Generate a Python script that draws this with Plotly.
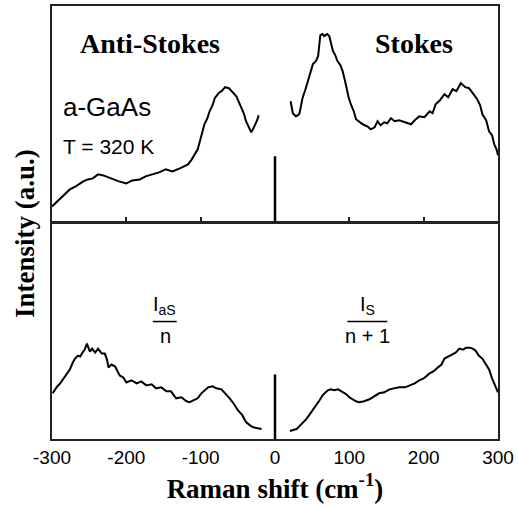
import plotly.graph_objects as go

# ---- data ----
top_as_x = [-300, -294, -289, -282, -276, -268, -258, -252, -245, -238, -231, -224, -218, -210, -200, -192,
            -182, -174, -165, -156, -147, -138, -128, -122, -117, -112, -108, -104, -101, -98, -95, -91,
            -88, -84, -81, -76, -72, -67, -62, -57, -52, -48, -45, -42, -39, -35, -32, -29, -26, -24, -22]
top_as_y = [15, 19, 23, 27, 32, 35, 40, 42, 43, 47, 46, 44, 42, 40, 38, 41,
            42, 45, 47, 49, 52, 50, 53, 55, 57, 62, 67, 72, 80, 90, 97, 103,
            110, 116, 123, 128, 130, 134, 133, 129, 125, 118, 113, 108, 100, 93, 89, 93, 97, 101, 106]

top_s_x = [21, 24, 28, 31, 33, 37, 41, 44, 48, 51, 55, 58, 61, 64, 66, 70, 73, 76, 78, 81, 84, 88, 91,
           94, 96, 99, 102, 106, 109, 114, 118, 124, 129, 134, 138, 142, 147, 151, 156, 161, 167, 175,
           183, 188, 194, 201, 208, 212, 216, 222, 228, 233, 239, 244, 250, 256, 261, 266, 272, 276,
           279, 284, 288, 292, 295, 298, 300]
top_s_y = [120, 108, 105, 106, 108, 123, 132, 140, 148, 157, 160, 165, 186, 187, 185, 187, 185, 176, 170,
           166, 160, 156, 150, 141, 133, 124, 117, 110, 102, 99, 97, 95, 92, 94, 100, 96, 99, 98, 103,
           100, 101, 99, 97, 101, 105, 104, 110, 108, 117, 121, 127, 124, 132, 130, 138, 134, 133, 128,
           122, 116, 107, 101, 90, 86, 77, 72, 66]

bot_as_x = [-299, -294, -289, -285, -280, -276, -272, -269, -265, -262, -259, -256, -253, -249, -246,
            -242, -238, -233, -229, -226, -224, -220, -215, -212, -209, -204, -200, -193, -186, -180,
            -173, -166, -160, -153, -146, -140, -133, -126, -119, -115, -110, -104, -99, -95, -90, -84,
            -79, -72, -67, -61, -55, -50, -44, -39, -34, -30, -25, -18]
bot_as_y = [46, 52, 56, 60, 66, 70, 77, 81, 84, 83, 87, 90, 96, 88, 91, 87, 91, 86, 86, 80, 72, 75, 73,
            68, 64, 62, 57, 59, 56, 58, 54, 55, 51, 52, 48, 48, 41, 42, 38, 37, 39, 41, 46, 49, 52, 53,
            51, 50, 46, 41, 35, 29, 24, 17, 14, 12, 11, 10]

bot_s_x = [20, 25, 29, 33, 37, 42, 46, 51, 55, 60, 64, 68, 71, 75, 80, 85, 89, 93, 96, 100, 104, 109,
           113, 120, 127, 133, 140, 147, 154, 160, 167, 175, 183, 188, 194, 200, 208, 213, 219, 224,
           228, 233, 239, 243, 248, 253, 257, 262, 266, 270, 274, 279, 283, 288, 292, 296, 300]
bot_s_y = [8, 9, 10, 13, 16, 20, 24, 29, 34, 39, 44, 47, 49, 50, 49, 50, 48, 46, 45, 42, 40, 38, 37, 38,
           40, 43, 46, 47, 50, 51, 52, 52, 54, 56, 59, 61, 66, 68, 72, 75, 81, 83, 86, 87, 91, 90, 92,
           92, 91, 89, 84, 81, 76, 70, 61, 54, 47]

spike_x = [0, 0]
spike_y = [0, 65]

tick_vals = [-300, -200, -100, 0, 100, 200, 300]
tick_text = ["-300", "-200", "-100", "0", "100", "200", "300"]

line = dict(color="black", width=2)

fig = go.Figure()
fig.add_trace(go.Scatter(x=top_as_x, y=top_as_y, mode="lines", line=line, xaxis="x2", yaxis="y2"))
fig.add_trace(go.Scatter(x=top_s_x, y=top_s_y, mode="lines", line=line, xaxis="x2", yaxis="y2"))
fig.add_trace(go.Scatter(x=spike_x, y=spike_y, mode="lines", line=dict(color="black", width=2.5),
                         xaxis="x2", yaxis="y2"))
fig.add_trace(go.Scatter(x=bot_as_x, y=bot_as_y, mode="lines", line=line, xaxis="x", yaxis="y"))
fig.add_trace(go.Scatter(x=bot_s_x, y=bot_s_y, mode="lines", line=line, xaxis="x", yaxis="y"))
fig.add_trace(go.Scatter(x=spike_x, y=spike_y, mode="lines", line=dict(color="black", width=2.5),
                         xaxis="x", yaxis="y"))

L, R, T, B = 52, 19, 4, 68
PW, PH = 518 - L - R, 507 - T - B
gap = 1.0 / PH

axcol = "#222"
fig.update_layout(
    width=518, height=507,
    margin=dict(l=L, r=R, t=T, b=B),
    plot_bgcolor="white", paper_bgcolor="white",
    showlegend=False,
    xaxis=dict(domain=[0, 1], anchor="y", range=[-300, 300], tickvals=tick_vals, ticktext=tick_text,
               ticks="", showline=True, mirror=True, linecolor=axcol, linewidth=2, showgrid=False,
               zeroline=False, tickfont=dict(family="Liberation Sans, Arial", size=19, color="black"),
               title=dict(text="<b>Raman shift (cm<sup>-1</sup>)</b>", standoff=12,
                          font=dict(family="Liberation Serif, Times New Roman", size=27, color="black"))),
    xaxis2=dict(domain=[0, 1], anchor="y2", matches="x", range=[-300, 300],
                tickvals=[-200, -100, 100, 200], ticks="inside", ticklen=5, tickcolor=axcol, tickwidth=1.5,
                showticklabels=False, showline=True, mirror=True, linecolor=axcol, linewidth=2,
                showgrid=False, zeroline=False),
    yaxis=dict(domain=[0, 0.5 - gap], range=[0, 217], showticklabels=False, ticks="", showline=True,
               mirror=True, linecolor=axcol, linewidth=2, showgrid=False, zeroline=False),
    yaxis2=dict(domain=[0.5 + gap, 1], range=[0, 215], showticklabels=False, ticks="", showline=True,
                mirror=True, linecolor=axcol, linewidth=2, showgrid=False, zeroline=False),
)

serif = dict(family="Liberation Serif, Times New Roman", color="black")
sans = dict(family="Liberation Sans, Arial", color="black")

ann = [
    dict(x=150, y=42, text="<b>Anti-Stokes</b>", font=dict(size=28, **serif)),
    dict(x=415, y=42, text="<b>Stokes</b>", font=dict(size=28, **serif)),
    dict(x=61, y=105, text="a-GaAs", font=dict(size=26, **sans), xanchor="left"),
    dict(x=61, y=145, text="T = 320 K", font=dict(size=21, **sans), xanchor="left"),
    dict(x=165, y=305, text="I<sub>aS</sub>", font=dict(size=20, **sans)),
    dict(x=166, y=336, text="n", font=dict(size=20, **sans)),
    dict(x=368, y=305, text="I<sub>S</sub>", font=dict(size=20, **sans)),
    dict(x=368, y=336, text="n + 1", font=dict(size=20, **sans)),
    dict(x=25, y=233, text="<b>Intensity (a.u.)</b>", textangle=-90, font=dict(size=27, **serif)),
]
for a in ann:
    a.update(xref="paper", yref="paper", showarrow=False)
    a.setdefault("xanchor", "center")
    a["yanchor"] = "middle"
    a["x"] = (a["x"] - L) / PW
    a["y"] = 1 - (a["y"] - T) / PH
fig.update_layout(annotations=ann)

def px2paper(px, py):
    return (px - L) / PW, 1 - (py - T) / PH

for (x0, x1) in [(153, 177), (348, 388)]:
    a0, b0 = px2paper(x0, 321)
    a1, _ = px2paper(x1, 321)
    fig.add_shape(type="line", xref="paper", yref="paper", x0=a0, x1=a1, y0=b0, y1=b0,
                  line=dict(color="black", width=1.5))

fig.write_html("out.html", config={"displayModeBar": False},
               post_script="document.body.style.margin='0';")
